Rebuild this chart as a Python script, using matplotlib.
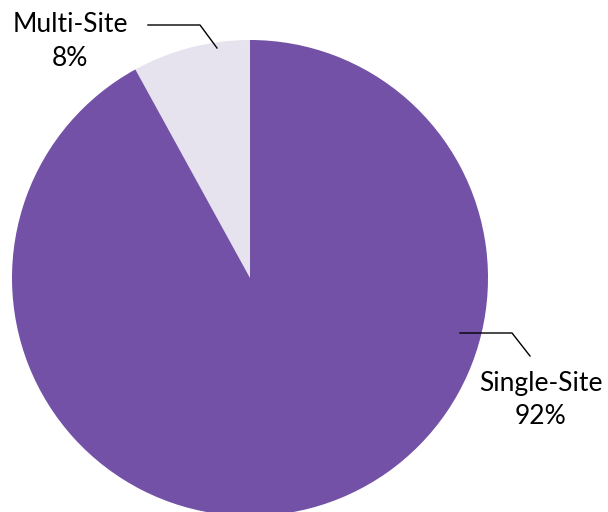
import matplotlib.pyplot as plt

labels = ['Multi-Site', 'Single-Site']
values = [8, 92]
colors = ['#E6E3EF', '#7251A6']

plt.rcParams['font.family'] = ['Lato', 'DejaVu Sans']

fig = plt.figure(figsize=(6.08, 5.12), dpi=100)
ax = fig.add_axes([0, 0, 1, 1])

# pie in pixel coords (y flipped, so counterclock=False draws to the left)
ax.pie(values, colors=colors, startangle=-90, counterclock=False,
       center=(250, 278), radius=238, frame=True,
       wedgeprops={'linewidth': 0})
ax.set_xlim(0, 608)
ax.set_ylim(512, 0)
ax.set_aspect('equal')
ax.axis('off')

# labels with leader lines
ax.plot([148, 200, 217], [25, 25, 48], color='black', lw=1)
ax.text(70, 25, labels[0], ha='center', va='center', fontsize=19)
ax.text(70, 59, '%d%%' % values[0], ha='center', va='center', fontsize=19)

ax.plot([460, 512, 530], [333, 333, 356], color='black', lw=1)
ax.text(541, 384, labels[1], ha='center', va='center', fontsize=19)
ax.text(541, 416, '%d%%' % values[1], ha='center', va='center', fontsize=19)

fig.savefig('out.png', dpi=100)
